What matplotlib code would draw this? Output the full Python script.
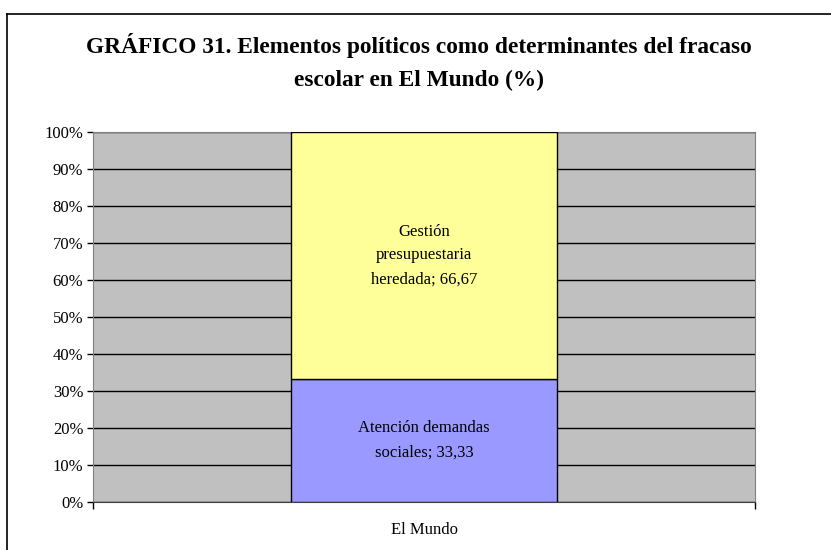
import matplotlib.pyplot as plt
from matplotlib.lines import Line2D

plt.rcParams["font.family"] = ["Liberation Serif", "DejaVu Serif"]

categories = ["El Mundo"]
series = ["Atención demandas sociales", "Gestión presupuestaria heredada"]
values = [[33.33], [66.67]]
labels = ["Atención demandas\nsociales; 33,33", "Gestión\npresupuestaria\nheredada; 66,67"]
colors = ["#9999FF", "#FFFF99"]
yticks = [0, 10, 20, 30, 40, 50, 60, 70, 80, 90, 100]

fig = plt.figure(figsize=(8.31, 5.5), dpi=100)
fig.patch.set_facecolor("white")

# outer chart frame (only top and left visible in the reference)
fig.add_artist(Line2D([7 / 831, 7 / 831], [0, 1 - 14 / 550], color="black", lw=1.2))
fig.add_artist(Line2D([7 / 831, 1], [1 - 14 / 550, 1 - 14 / 550], color="black", lw=1.2))

ax = fig.add_axes([93 / 831, 1 - 502 / 550, (755 - 93) / 831, (502 - 132) / 550])
ax.set_facecolor("#C0C0C0")

bottom = 0
total = sum(v[0] for v in values)
for vals, lab, col in zip(values, labels, colors):
    h = vals[0] / total * 100
    ax.bar(0, h, width=0.402, bottom=bottom, color=col, edgecolor="black", lw=1, zorder=3)
    ax.text(0, bottom + h / 2, lab, ha="center", va="center", fontsize=12, zorder=4,
            linespacing=1.65)
    bottom += h

ax.set_xlim(-0.5, 0.5)
ax.set_ylim(0, 100)
ax.set_yticks(yticks)
ax.set_yticklabels([f"{t}%" for t in yticks], fontsize=12)
ax.yaxis.grid(True, color="black", lw=1)
ax.set_axisbelow(True)
ax.tick_params(axis="y", direction="out", length=4, width=1, pad=3)

ax.set_xticks([-0.5, 0.5])
ax.set_xticklabels(["", ""])
ax.tick_params(axis="x", direction="out", length=5, width=1)
ax.text(0, -7.6, categories[0], ha="center", va="center", fontsize=12)

for s in ["left", "right", "top"]:
    ax.spines[s].set_color("#808080")
ax.spines["bottom"].set_color("#404040")

fig.text(419 / 831, 1 - 62 / 550,
         "GRÁFICO 31. Elementos políticos como determinantes del fracaso\nescolar en El Mundo (%)",
         ha="center", va="center", fontsize=16.8, fontweight="bold", linespacing=1.72)

plt.savefig("out.png", dpi=100)
